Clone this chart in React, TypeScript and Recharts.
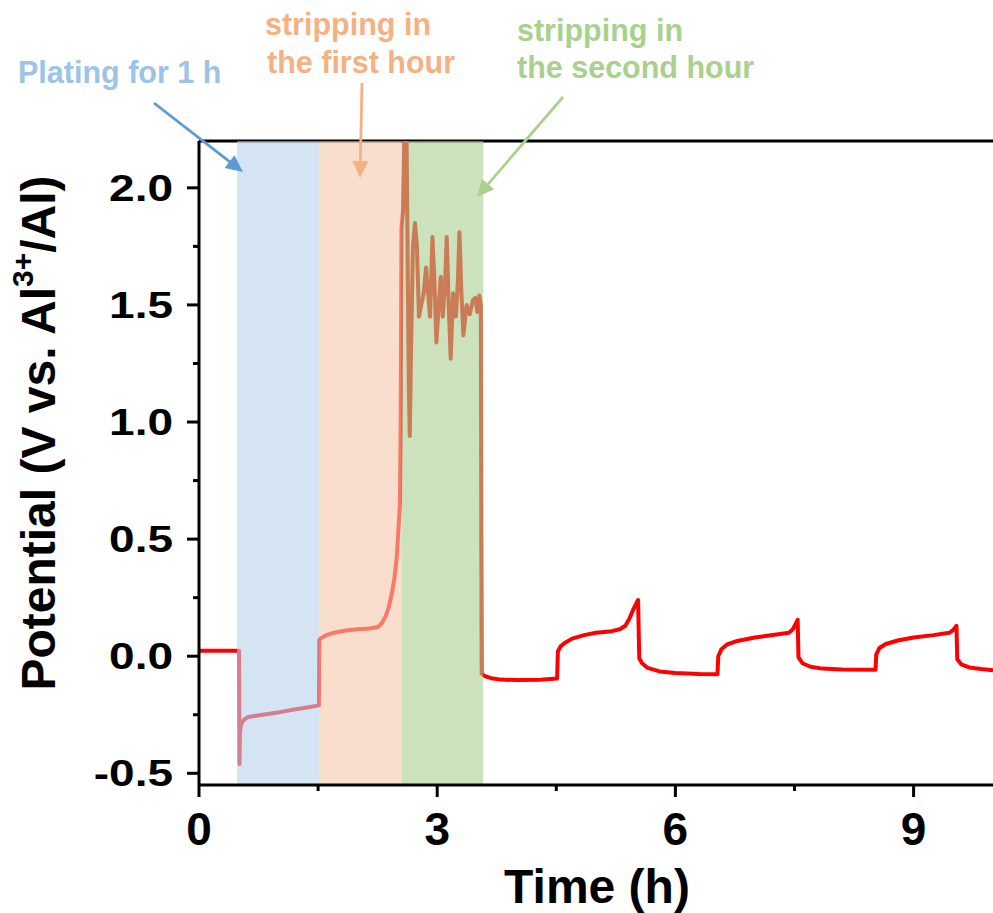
import React from 'react';
import { LineChart, Line, XAxis, YAxis, ReferenceArea, ReferenceLine } from 'recharts';

const FONT = '"Liberation Sans", Arial, Helvetica, sans-serif';

// ---- data (time in h, potential in V) ----
const restT = [0, 0.505];
const restV = [0.023, 0.023];

const platingT = [0.51, 0.515, 0.53, 0.57, 0.62, 0.8, 1.0, 1.2, 1.4, 1.51];
const platingV = [-0.46, -0.33, -0.29, -0.27, -0.26, -0.25, -0.24, -0.228, -0.217, -0.21];

const strip1T = [1.515, 1.53, 1.6, 1.7, 1.85, 2.0, 2.15, 2.25, 2.3, 2.35, 2.39, 2.43, 2.46, 2.49, 2.51, 2.53, 2.54];
const strip1V = [0.07, 0.075, 0.09, 0.1, 0.11, 0.115, 0.118, 0.125, 0.14, 0.17, 0.21, 0.27, 0.33, 0.42, 0.53, 0.65, 1.0];

const strip2T = [2.55, 2.57, 2.585, 2.615, 2.63, 2.645, 2.655, 2.67, 2.695, 2.72, 2.745, 2.77, 2.8, 2.83, 2.86, 2.885, 2.91, 2.94, 2.965, 2.99, 3.02, 3.045, 3.07, 3.1, 3.12, 3.145, 3.17, 3.2, 3.235, 3.26, 3.28, 3.305, 3.33, 3.37, 3.41, 3.45, 3.48, 3.505, 3.53, 3.55, 3.555];
const strip2V = [1.83, 1.9, 2.2, 2.2, 1.6, 1.1, 0.94, 1.3, 1.75, 1.85, 1.75, 1.45, 1.5, 1.55, 1.66, 1.55, 1.45, 1.79, 1.6, 1.34, 1.5, 1.62, 1.45, 1.6, 1.79, 1.5, 1.27, 1.55, 1.45, 1.6, 1.81, 1.55, 1.37, 1.5, 1.46, 1.52, 1.53, 1.47, 1.54, 1.5, 0.5];

const cycleT = [3.56, 3.6, 3.68, 3.8, 4.0, 4.3, 4.51, 4.52, 4.55, 4.6, 4.7, 4.85, 5.0, 5.2, 5.3, 5.37, 5.42, 5.47, 5.53, 5.545, 5.58, 5.65, 5.8, 6.0, 6.3, 6.53, 6.54, 6.58, 6.65, 6.78, 7.0, 7.25, 7.43, 7.48, 7.54, 7.55, 7.6, 7.7, 7.85, 8.1, 8.52, 8.53, 8.57, 8.65, 8.8, 9.0, 9.25, 9.45, 9.5, 9.54, 9.55, 9.6, 9.7, 9.85, 10.0];
const cycleV = [-0.075, -0.085, -0.094, -0.1, -0.102, -0.101, -0.095, 0.02, 0.04, 0.055, 0.075, 0.09, 0.1, 0.107, 0.115, 0.13, 0.16, 0.2, 0.24, -0.01, -0.03, -0.05, -0.065, -0.072, -0.076, -0.077, 0.0, 0.03, 0.05, 0.065, 0.08, 0.092, 0.1, 0.115, 0.155, -0.005, -0.03, -0.045, -0.053, -0.057, -0.058, 0.008, 0.035, 0.052, 0.067, 0.08, 0.09, 0.1, 0.112, 0.13, -0.013, -0.035, -0.048, -0.055, -0.06];

const xTicks = [0, 1.5, 3, 4.5, 6, 7.5, 9];
const yTicks = [-0.5, -0.25, 0, 0.25, 0.5, 0.75, 1.0, 1.25, 1.5, 1.75, 2.0];

const platingRange = [0.48, 1.51];
const strip1Range = [1.51, 2.55];
const strip2Range = [2.55, 3.58];

const build = (ts: number[], vs: number[]) => ts.map((t, i) => ({ t, v: vs[i] }));
const data = [
  ...build(restT, restV),
  ...build(platingT, platingV),
  ...build(strip1T, strip1V),
  ...build(strip2T, strip2V),
  ...build(cycleT, cycleV),
];

function YTick(props: any) {
  const { x, y, payload } = props;
  const v = payload.value as number;
  const major = Math.abs(v * 2 - Math.round(v * 2)) < 1e-6;
  return (
    <g>
      <line x1={x - (major ? 12 : 6)} x2={x} y1={y} y2={y} stroke="#000" strokeWidth={3} />
      {major && (
        <text
          transform={`translate(${x - 26},${y + 13}) scale(1,0.8)`}
          textAnchor="end"
          fontFamily={FONT}
          fontWeight="bold"
          fontSize={46}
          fill="#000"
        >
          {v.toFixed(1)}
        </text>
      )}
    </g>
  );
}

function XTick(props: any) {
  const { x, y, payload } = props;
  const v = payload.value as number;
  const major = Number.isInteger(v);
  return (
    <g>
      <line x1={x} x2={x} y1={y} y2={y + (major ? 12 : 6)} stroke="#000" strokeWidth={3} />
      {major && (
        <text x={x} y={y + 60} textAnchor="middle" fontFamily={FONT} fontWeight="bold" fontSize={46} fill="#000">
          {String(v)}
        </text>
      )}
    </g>
  );
}

function Arrow({ x1, y1, x2, y2, color }: { x1: number; y1: number; x2: number; y2: number; color: string }) {
  const dx = x2 - x1;
  const dy = y2 - y1;
  const len = Math.sqrt(dx * dx + dy * dy);
  const ux = dx / len;
  const uy = dy / len;
  const hl = 17;
  const hw = 8;
  const bx = x2 - ux * hl;
  const by = y2 - uy * hl;
  const pts = `${x2},${y2} ${bx - uy * hw},${by + ux * hw} ${bx + uy * hw},${by - ux * hw}`;
  return (
    <g>
      <line x1={x1} y1={y1} x2={bx + ux * 2} y2={by + uy * 2} stroke={color} strokeWidth={2.8} />
      <polygon points={pts} fill={color} />
    </g>
  );
}

export default function App() {
  return (
    <div style={{ position: 'absolute', left: 0, top: 0, width: 993, height: 913, background: '#fff' }}>
      <LineChart width={993} height={913} data={data} margin={{ top: 141, right: 0, left: 0, bottom: 48 }}>
        <XAxis
          dataKey="t"
          type="number"
          domain={[0, 10]}
          ticks={xTicks}
          interval={0}
          allowDataOverflow
          tickLine={false}
          tickSize={0}
          tickMargin={0}
          tick={(p: any) => <XTick {...p} />}
          axisLine={{ stroke: '#000', strokeWidth: 3 }}
          height={80}
        />
        <YAxis
          type="number"
          domain={[-0.55, 2.2]}
          ticks={yTicks}
          interval={0}
          allowDataOverflow
          tickLine={false}
          tickSize={0}
          tickMargin={0}
          tick={(p: any) => <YTick {...p} />}
          axisLine={{ stroke: '#000', strokeWidth: 3 }}
          width={199}
        />
        <ReferenceLine y={2.2} stroke="#000" strokeWidth={3} ifOverflow="visible" zIndex={300} />
        <Line
          type="linear"
          dataKey="v"
          stroke="#ff0000"
          strokeWidth={4}
          dot={false}
          activeDot={false}
          isAnimationActive={false}
          strokeLinejoin="round"
        />
        <ReferenceArea x1={platingRange[0]} x2={platingRange[1]} fill="#b9d2e9" fillOpacity={0.6} stroke="none" zIndex={450} />
        <ReferenceArea x1={strip1Range[0]} x2={strip1Range[1]} fill="#f5c8ad" fillOpacity={0.6} stroke="none" zIndex={450} />
        <ReferenceArea x1={strip2Range[0]} x2={strip2Range[1]} fill="#a8cf91" fillOpacity={0.6} stroke="none" zIndex={450} />
      </LineChart>
      <svg
        width={993}
        height={913}
        style={{ position: 'absolute', left: 0, top: 0, pointerEvents: 'none' }}
        fontFamily={FONT}
        fontWeight="bold"
      >
        <text x={18} y={83} fontSize={30.5} fill="#9dc3e6">Plating for 1 h</text>
        <text x={265} y={35} fontSize={30.5} fill="#f4b183">stripping in</text>
        <text x={267} y={73} fontSize={30.5} fill="#f4b183">the first hour</text>
        <text x={517} y={41} fontSize={30.5} fill="#a9d18e">stripping in</text>
        <text x={517} y={78} fontSize={30.5} fill="#a9d18e">the second hour</text>
        <Arrow x1={154} y1={103} x2={243} y2={172} color="#5b9bd5" />
        <Arrow x1={362} y1={83} x2={360} y2={178} color="#f4b183" />
        <Arrow x1={563} y1={97} x2={477} y2={197} color="#a9d18e" />
        <text x={597} y={903} fontSize={48} textAnchor="middle" fill="#000">Time (h)</text>
        <text transform="translate(55,433) rotate(-90)" fontSize={48} textAnchor="middle" fill="#000">
          Potential (V vs. Al
          <tspan fontSize={30} dy={-22}>3+</tspan>
          <tspan dy={22}>/Al)</tspan>
        </text>
      </svg>
    </div>
  );
}
